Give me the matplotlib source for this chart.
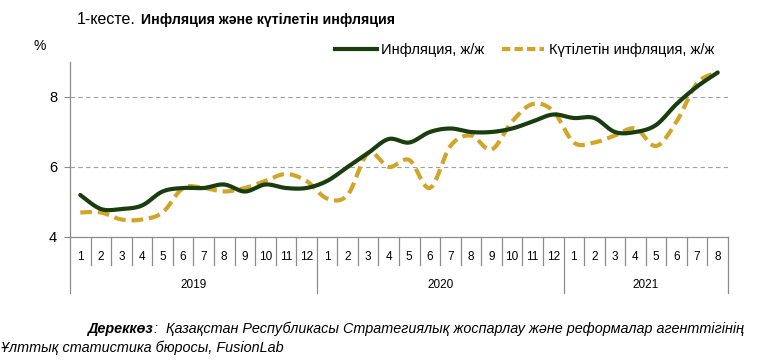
import numpy as np
import matplotlib
matplotlib.use('Agg')
import matplotlib.pyplot as plt
from matplotlib.lines import Line2D
from matplotlib import font_manager
import matplotlib.transforms as mtransforms

plt.rcParams['font.family'] = ['Liberation Sans', 'DejaVu Sans']

# data
years = ['2019', '2020', '2021']
months_per_year = [12, 12, 8]
month_labels = [str(m) for n in months_per_year for m in range(1, n + 1)]
inflation = [5.2, 4.8, 4.8, 4.9, 5.3, 5.4, 5.4, 5.5, 5.3, 5.5, 5.4, 5.4,
             5.6, 6.0, 6.4, 6.8, 6.7, 7.0, 7.1, 7.0, 7.0, 7.1, 7.3, 7.5,
             7.4, 7.4, 7.0, 7.0, 7.2, 7.8, 8.3, 8.7]
expected = [4.7, 4.7, 4.5, 4.5, 4.7, 5.4, 5.4, 5.3, 5.4, 5.6, 5.8, 5.6,
            5.1, 5.2, 6.4, 6.0, 6.2, 5.4, 6.6, 6.9, 6.5, 7.3, 7.8, 7.6,
            6.7, 6.7, 6.9, 7.1, 6.6, 7.3, 8.4, 8.7]
series_labels = ['Инфляция, ж/ж', 'Күтілетін инфляция, ж/ж']

GREEN = '#1a3d10'
GOLD = '#d1a52a'
GREY = '#8c8c8c'

# narrow font for title/source if there is one
names = {f.name for f in font_manager.fontManager.ttflist}
if 'Liberation Sans Narrow' in names:
    NARROW = ['Liberation Sans Narrow', 'DejaVu Sans']
    head_fs, title_fs, src_fs = 13, 12.5, 11.5
else:
    NARROW = ['Liberation Sans', 'DejaVu Sans']
    head_fs, title_fs, src_fs = 11.5, 10.2, 10.4


def smooth(x, y, steps=16):
    # excel-like smoothed line (bezier with catmull-rom tangents)
    x = np.asarray(x, float)
    y = np.asarray(y, float)
    px = np.concatenate([[x[0]], x, [x[-1]]])
    py = np.concatenate([[y[0]], y, [y[-1]]])
    xs, ys = [], []
    t = np.linspace(0, 1, steps, endpoint=False)
    for i in range(1, len(px) - 2):
        p0 = np.array([px[i], py[i]])
        p3 = np.array([px[i + 1], py[i + 1]])
        c1 = p0 + (np.array([px[i + 1], py[i + 1]]) - np.array([px[i - 1], py[i - 1]])) / 6
        c2 = p3 - (np.array([px[i + 2], py[i + 2]]) - np.array([px[i], py[i]])) / 6
        b = ((1 - t) ** 3)[:, None] * p0 + (3 * (1 - t) ** 2 * t)[:, None] * c1 \
            + (3 * (1 - t) * t ** 2)[:, None] * c2 + (t ** 3)[:, None] * p3
        xs.extend(b[:, 0])
        ys.extend(b[:, 1])
    xs.append(x[-1])
    ys.append(y[-1])
    return xs, ys


fig = plt.figure(figsize=(7.8, 3.64), dpi=100)
W, H = 780, 364
ax = fig.add_axes([70 / W, 1 - 237 / H, 658 / W, 175 / H])

x = np.arange(len(month_labels))
sx, sy = smooth(x, expected)
ax.plot(sx, sy, color=GOLD, lw=3.0, dashes=(2.8, 1.4), dash_capstyle='butt', zorder=3)
sx, sy = smooth(x, inflation)
ax.plot(sx, sy, color=GREEN, lw=3.0, solid_capstyle='round', zorder=4)

ax.set_xlim(-0.5, len(month_labels) - 0.5)
ax.set_ylim(4, 9)
ax.set_yticks([4, 6, 8])
ax.set_yticklabels(['4', '6', '8'], fontsize=10.5)
ax.tick_params(axis='y', length=4.3, width=0.8, color=GREY, pad=5)
ax.set_xticks([])
for v in [6, 8]:
    ax.axhline(v, color='#a0a0a0', lw=0.8, dashes=(4, 3), zorder=1)

for s in ['top', 'right']:
    ax.spines[s].set_visible(False)
for s in ['left', 'bottom']:
    ax.spines[s].set_color(GREY)
    ax.spines[s].set_linewidth(0.9)

# two-level category axis
trans = mtransforms.blended_transform_factory(ax.transData, ax.transAxes)
bounds = np.cumsum([0] + months_per_year) - 0.5
for k in range(len(month_labels) + 1):
    pos = k - 0.5
    low = -0.32 if np.any(np.isclose(bounds, pos)) else -0.16
    ax.plot([pos, pos], [0, low], transform=trans, color=GREY, lw=0.9, clip_on=False)
for i, lab in enumerate(month_labels):
    ax.text(i, -0.114, lab, transform=trans, ha='center', va='center', fontsize=8.5)
for i, yr in enumerate(years):
    ax.text((bounds[i] + bounds[i + 1]) / 2, -0.274, yr, transform=trans,
            ha='center', va='center', fontsize=8.5)

fig.text(40 / W, 1 - 46 / H, '%', fontsize=10, va='center', ha='center')

handles = [Line2D([], [], color=GREEN, lw=3.0),
           Line2D([], [], color=GOLD, lw=3.0, dashes=(2.0, 1.0))]
fig.legend(handles, series_labels, loc='center right', bbox_to_anchor=(714 / W, 1 - 50 / H),
           ncol=2, frameon=False, fontsize=10.5, handlelength=2.9, handletextpad=0.3,
           columnspacing=1.2, borderpad=0, borderaxespad=0)

# title and source, second part placed after the measured first part
renderer = fig.canvas.get_renderer()


def two_part(xpx, ypx, first, second, fs1, fs2, kw1, kw2, gap=4):
    t1 = fig.text(xpx / W, 1 - ypx / H, first, fontsize=fs1, va='center', ha='left',
                  family=NARROW, **kw1)
    ext = t1.get_window_extent(renderer)
    fig.text((ext.x1 + gap) / W, 1 - ypx / H, second, fontsize=fs2, va='center', ha='left',
             family=NARROW, **kw2)


two_part(77, 20, '1-кесте.', 'Инфляция және күтілетін инфляция', head_fs, title_fs,
         {}, {'fontweight': 'bold'}, gap=5)
two_part(87, 329, 'Дереккөз',
         ':  Қазақстан Республикасы Стратегиялық жоспарлау және реформалар агенттігінің',
         src_fs, src_fs, {'fontweight': 'bold', 'style': 'italic'}, {'style': 'italic'}, gap=1)
fig.text(1 / W, 1 - 348 / H, 'Ұлттық статистика бюросы, FusionLab', fontsize=src_fs,
         style='italic', va='center', ha='left', family=NARROW)

fig.savefig('out.png', dpi=100)
